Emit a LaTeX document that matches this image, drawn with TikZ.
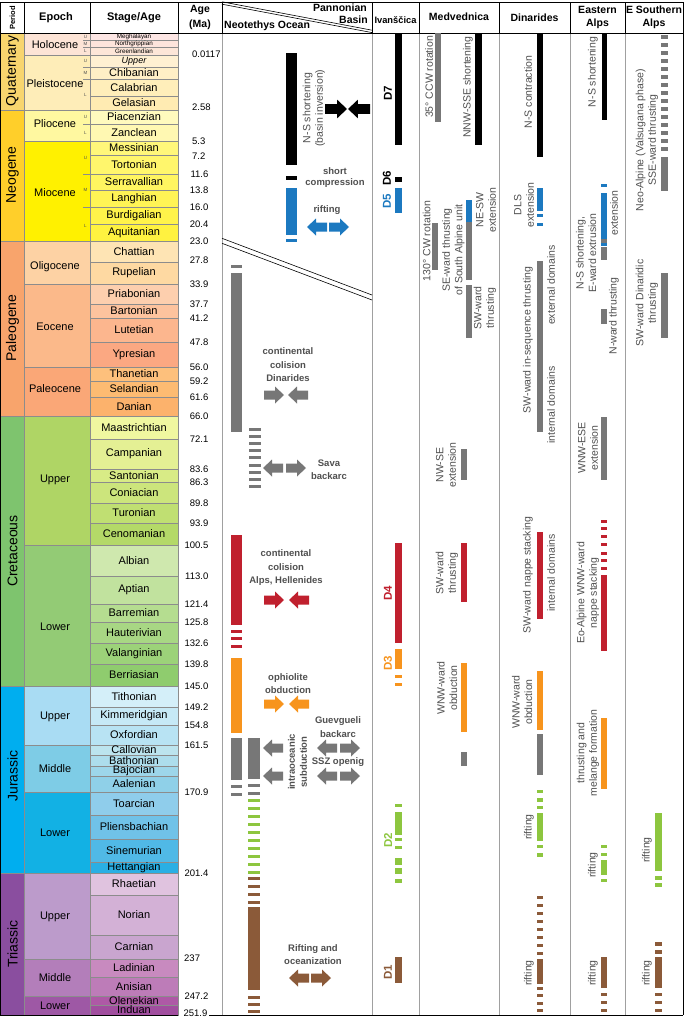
\documentclass[tikz,border=0pt]{standalone}
\usepackage{fontspec}
\setmainfont{Liberation Sans}
\definecolor{tgray}{HTML}{505050}
\definecolor{bgray}{HTML}{777777}
\definecolor{bblue}{HTML}{1C79C0}
\definecolor{bred}{HTML}{C0202E}
\definecolor{borange}{HTML}{F7941D}
\definecolor{bgreen}{HTML}{8DC63F}
\definecolor{bbrown}{HTML}{8B5A39}
\definecolor{lgray}{HTML}{8C8C8C}
\definecolor{cgray}{HTML}{A0A0A0}
\tikzset{
  rarr/.pic={\fill[#1] (-10,-4.5) -- (1,-4.5) -- (1,-8.5) -- (10,0) -- (1,8.5) -- (1,4.5) -- (-10,4.5) -- cycle;},
  larr/.pic={\fill[#1] (10,-4.5) -- (-1,-4.5) -- (-1,-8.5) -- (-10,0) -- (-1,8.5) -- (-1,4.5) -- (10,4.5) -- cycle;},
  hdr/.style={font=\bfseries\fontsize{10.5}{12}\selectfont, align=center, inner sep=0pt},
  lab/.style={font=\fontsize{10.5}{12.5}\selectfont, text=tgray, align=center, rotate=90, inner sep=0pt},
  nlab/.style={font=\bfseries\fontsize{9.5}{13.5}\selectfont, text=tgray, align=center, inner sep=0pt},
  dlab/.style={font=\bfseries\fontsize{11.5}{12}\selectfont, rotate=90, inner sep=0pt},
  agel/.style={font=\fontsize{9.5}{11}\selectfont, inner sep=0pt},
  subl/.style={font=\fontsize{4.5}{5}\selectfont, text=tgray, inner sep=0pt},
  cell/.style={draw=lgray, line width=0.5pt},
  sep/.style={draw=cgray, line width=0.8pt},
  frame/.style={draw=black, line width=0.8pt},
}
\begin{document}
\begin{tikzpicture}[x=1pt,y=-1pt]
\useasboundingbox (0,0) rectangle (685,1020);
\fill[white] (0,0) rectangle (685,1020);

% ---------- periods ----------
\foreach \a/\b/\n/\c/\yy in {33/110/Quaternary/F8D56E/71, 110/241/Neogene/FFCF2A/175, 241/416/Paleogene/F8A46C/328, 416/686/Cretaceous/7EC46E/551, 686/873/Jurassic/00AEEF/776, 873/1015/Triassic/8A4E9F/944}{
  \definecolor{tmpc}{HTML}{\c}
  \filldraw[fill=tmpc, cell] (0,\a) rectangle (24,\b);
  \node[font=\fontsize{14}{14}\selectfont, rotate=90, inner sep=0pt] (pe\a) at (12.5,\yy) {\n};
}
% ---------- epochs ----------
\foreach \a/\b/\n/\c/\yy in {33/55/Holocene/FDE4D6/45, 55/110/Pleistocene/FEEDB8/84, 110/141/Pliocene/FFF8A0/124, 141/241/Miocene/FFF100/193, 241/284/Oligocene/FDD2A4/267, 284/367/Eocene/FBB98A/327, 367/416/Paleocene/FAA777/389, 416/545/Upper/AFD565/480, 545/686/Lower/93CB75/627, 686/745/Upper/A9DCF3/717, 745/792/Middle/7ECCE6/769, 792/873/Lower/12B1E4/833, 873/959/Upper/BC9BCB/917, 959/996/Middle/B37EBA/978, 996/1015/Lower/9E58A5/1006}{
  \definecolor{tmpc}{HTML}{\c}
  \filldraw[fill=tmpc, cell] (24,\a) rectangle (90,\b);
  \node[font=\fontsize{11}{11}\selectfont, inner sep=0pt] (ep\a) at (55,\yy) {\n};
}
% ---------- stages ----------
\foreach \a/\b/\n/\c/\f in {33/40/Meghalayan/FDE6E4/6.3, 40/47/Northgrippian/FDE4DC/6.3, 47/55/Greenlandian/FDE6D8/6.3, 55/67/\itshape Upper/FFF0D2/9, 67/79/Chibanian/FFEFC6/11, 79/96/Calabrian/FFEEBA/11, 96/110/Gelasian/FFEBB2/11,
 110/124/Piacenzian/FFFABE/11, 124/141/Zanclean/FFF8B2/11, 141/155/Messinian/FFF77A/11, 155/174/Tortonian/FFF66C/11, 174/190/Serravallian/FFF560/11, 190/207/Langhian/FFF455/11, 207/224/Burdigalian/FFF34A/11, 224/241/Aquitanian/FFF240/11,
 241/262/Chattian/FEE4B4/11, 262/284/Rupelian/FED9A2/11, 284/304/Priabonian/FDCFAE/11, 304/318/Bartonian/FDC39E/11, 318/342/Lutetian/FCB68E/11, 342/367/Ypresian/FBA882/11, 367/381/Thanetian/FDC07C/11, 381/397/Selandian/FDBB72/11, 397/416/Danian/FCB26C/11,
 416/439/Maastrichtian/F0F7A0/11, 439/469/Campanian/E4F094/11, 469/482/Santonian/D8EB86/11, 482/503/Coniacian/CCE57C/11, 503/523/Turonian/C0DF72/11, 523/545/Cenomanian/B4D968/11,
 545/576/Albian/CFE8AE/11, 576/604/Aptian/C1E29E/11, 604/622/Barremian/B5DD90/11, 622/643/Hauterivian/A8D784/11, 643/664/Valanginian/9CD279/11, 664/686/Berriasian/8FCC6E/11,
 686/707/Tithonian/D4EFF9/11, 707/725/Kimmeridgian/C6E9F6/11, 725/745/Oxfordian/B8E3F3/11,
 745/755/Callovian/BCE4EE/11, 755/766/Bathonian/ADDDEC/11, 766/776/Bajocian/9DD6EA/11, 776/792/Aalenian/8FD0E8/11,
 792/815/Toarcian/8FCDEB/11, 815/839/Pliensbachian/70C2E8/11, 839/862/Sinemurian/50B9E6/11, 862/873/Hettangian/2AAFE4/11,
 873/895/Rhaetian/E0C3DF/11, 895/935/Norian/D3B1D6/11, 935/959/Carnian/C9A5CF/11, 959/977/Ladinian/C88ABF/11, 977/996/Anisian/BD7CB8/11, 996/1005/Olenekian/AE59A6/11, 1005/1015/Induan/A14E9F/11}{
  \definecolor{tmpc}{HTML}{\c}
  \filldraw[fill=tmpc, cell] (90,\a) rectangle (178,\b);
  \node[font=\fontsize{\f}{\f}\selectfont, inner sep=0pt] (st\a) at (134,{(\a+\b)/2}) {\n};
}
% sub-epoch ticks and letters
\foreach \y in {40,47,67,79,124,174,207} \draw[cell] (83,\y) -- (90,\y);
\foreach \y/\t in {36.5/U,43.5/M,51/L,61/U,73/M,95/L,117/U,133/L,158/U,190/M,226/L}
  \node[subl] (sl\y) at (85.5,\y) {\t};

% ---------- age labels ----------
\foreach \y/\t in {54/0.0117,107/2.58,141/5.3,156/7.2}
  \node[agel, anchor=west] (ag\y) at (192,\y) {\t};
\foreach \y/\t in {174/11.6,190/13.8,207/16.0,224/20.4,241/23.0,260/27.8,284/33.9,304/37.7,318/41.2,342/47.8,367/56.0,381/59.2,397/61.6,416/66.0,439/72.1,469/83.6,482/86.3,503/89.8,523/93.9,545/100.5,576/113.0,604/121.4,622/125.8,643/132.6,664/139.8,686/145.0,707/149.2,725/154.8,745/161.5,792/170.9,873/201.4,996/247.2}
  \node[agel, anchor=east] (ag\y) at (208.5,\y) {\t};
\node[agel, anchor=east] (ag1015) at (207.5,1013.5) {251.9};
\node[agel, anchor=west] (ag959) at (184,958) {237};

% ---------- column separators ----------
\foreach \x in {222,372,419,499,570,625} \draw[sep] (\x,33) -- (\x,1015);
\draw[frame] (0.4,2) -- (683,2);
\draw[frame] (0,33) -- (683,33);
\draw[frame] (683,2) -- (683,1015);
\draw[frame] (0.4,2) -- (0.4,1015);
\foreach \x in {24,90,178,222,372,419,499,570,625} \draw[frame] (\x,2) -- (\x,33);
\draw[frame] (0,1015) -- (178,1015);
\draw[frame] (209,1015) -- (683,1015);

% ---------- header texts ----------
\node[hdr, rotate=90, font=\bfseries\fontsize{7.5}{8}\selectfont] (hP) at (12.5,18) {Period};
\node[hdr, font=\bfseries\fontsize{11}{12}\selectfont] (hE) at (56,18) {Epoch};
\node[hdr, font=\bfseries\fontsize{11}{12}\selectfont] (hS) at (134,18) {Stage/Age};
\node[hdr, font=\bfseries\fontsize{10.5}{14.5}\selectfont] (hA) at (200,17.5) {Age\\(Ma)};
\draw[line width=0.6pt] (222,1.8) -- (372,30.2);
\draw[line width=0.6pt] (222,4.2) -- (372,32.6);
\node[hdr, anchor=east] (hPa) at (367,8) {Pannonian};
\node[hdr, anchor=east] (hBa) at (368,20) {Basin};
\node[hdr, anchor=west] (hNe) at (224,26) {Neotethys Ocean};
\node[hdr, font=\bfseries\fontsize{9.3}{12}\selectfont] (hIv) at (395.5,20) {Ivanščica};
\node[hdr] (hMe) at (459,17) {Medvednica};
\node[hdr] (hDi) at (534.5,17.5) {Dinarides};
\node[hdr, font=\bfseries\fontsize{10.5}{13.5}\selectfont] (hEA) at (597.5,17.5) {Eastern\\Alps};
\node[hdr, font=\bfseries\fontsize{10.5}{13.5}\selectfont] (hES) at (654,17.5) {E Southern\\Alps};

% ---------- Pannonian / Neotethys column ----------
\draw[line width=0.6pt] (222,238.3) -- (372,295);
\draw[line width=0.6pt] (222,243.3) -- (372,300);
% Pannonian basin
\fill[black] (286,53) rectangle (297,165);
\fill[black] (286,176) rectangle (297,180);
\fill[bblue] (286,188) rectangle (297,235);
\fill[bblue] (286,239) rectangle (297,242);
\node[lab] (nsS) at (314,108) {N-S shortening\\(basin inversion)};
\pic[scale=1.1] at (336,109) {rarr=black};
\pic[scale=1.1] at (359,109) {larr=black};
\node[nlab, font=\bfseries\fontsize{9.5}{11}\selectfont] (shc) at (335,178) {short\\compression};
\node[nlab] (rif) at (327,210) {rifting};
\pic at (317,227) {larr=bblue};
\pic at (339,227) {rarr=bblue};
% Neotethys
\fill[bgray] (231,265) rectangle (242,268);
\fill[bgray] (231,273) rectangle (242,432);
\foreach \i in {0,...,8} \fill[bgray] (249,{428+7.1*\i}) rectangle ++(12,3);
\node[nlab] (ccD) at (288,365) {continental\\colision\\Dinarides};
\pic at (274,395) {rarr=bgray};
\pic at (298,395) {larr=bgray};
\pic at (273,468) {larr=bgray};
\pic at (296,468) {rarr=bgray};
\node[nlab] (sav) at (329,469.5) {Sava\\backarc};
\fill[bred] (231,535) rectangle (242,625);
\foreach \y in {630,637,645} \fill[bred] (231,\y) rectangle ++(11,3);
\node[nlab] (ccA) at (286,568) {continental\\colision\\Alps, Hellenides};
\pic at (274,600) {rarr=bred};
\pic at (299,600) {larr=bred};
\fill[borange] (231,658) rectangle (242,733);
\node[nlab] (oph) at (288,683.5) {ophiolite\\obduction};
\pic at (274,704) {rarr=borange};
\pic at (299,704) {larr=borange};
\fill[bgray] (231,738) rectangle (242,780);
\foreach \y in {785,793} \fill[bgray] (231,\y) rectangle ++(11,3);
\fill[bgray] (248,738) rectangle (260,779);
\foreach \y in {784,792} \fill[bgray] (248,\y) rectangle ++(12,3);
\foreach \i in {0,...,9} \fill[bgreen] (248,{799+8*\i}) rectangle ++(12,3);
\foreach \y in {877,885,893,901} \fill[bbrown] (248,\y) rectangle ++(12,3);
\fill[bbrown] (248,907) rectangle (260,990);
\foreach \y in {996,1003,1010} \fill[bbrown] (248,\y) rectangle ++(12,3);
\node[nlab] (gue) at (338,727) {Guevgueli\\backarc};
\pic at (327,748) {larr=bgray};
\pic at (350,748) {rarr=bgray};
\node[nlab] (ssz) at (338,762) {SSZ openig};
\pic at (327,776) {larr=bgray};
\pic at (350,776) {rarr=bgray};
\pic at (273,748) {larr=bgray};
\pic at (273,776) {larr=bgray};
\node[nlab, rotate=90, font=\bfseries\fontsize{9.5}{12}\selectfont] (ioc) at (297.5,762) {intraoceanic\\subduction};
\node[nlab] (roc) at (313,954.5) {Rifting and\\oceanization};
\pic at (299,978) {larr=bbrown};
\pic at (321,978) {rarr=bbrown};

% ---------- Ivanscica ----------
\fill[black] (395,33) rectangle (402,145);
\node[dlab] (d7) at (388,93) {D7};
\fill[black] (395,177) rectangle (402,182);
\node[dlab] (d6) at (387,178) {D6};
\fill[bblue] (395,188) rectangle (402,213);
\node[dlab, text=bblue] (d5) at (387,201) {D5};
\fill[bred] (395,543) rectangle (402,643);
\node[dlab, text=bred] (d4) at (388,593) {D4};
\fill[borange] (395,649) rectangle (402,669);
\foreach \y in {675,683} \fill[borange] (395,\y) rectangle ++(7,3);
\node[dlab, text=borange] (d3) at (388,663) {D3};
\foreach \a/\b in {804/807,812/835,838/841,846/849,858/865,868/874,879/883} \fill[bgreen] (395,\a) rectangle (402,\b);
\node[dlab, text=bgreen] (d2) at (388,840) {D2};
\fill[bbrown] (395,957) rectangle (402,983);
\node[dlab, text=bbrown] (d1) at (388,972) {D1};

% ---------- Medvednica ----------
\fill[bgray] (435,33) rectangle (441,122);
\node[lab] (m1) at (429,77) {35° CCW rotation};
\fill[black] (475,33) rectangle (482,145);
\node[lab] (m2) at (468,87) {NNW-SSE shortening};
\fill[bgray] (432,223) rectangle (438,270);
\node[lab] (m3) at (426.5,241) {130° CW rotation};
\fill[bblue] (466,200) rectangle (472,222);
\fill[bgray] (466,222) rectangle (472,280);
\node[lab] (m4) at (453.5,250) {SE-ward thrusting\\of South Alpine unit};
\node[lab] (m5) at (486,210) {NE-SW\\extension};
\fill[bgray] (466,285) rectangle (472,338);
\node[lab] (m6) at (485,308) {SW-ward\\thrusting};
\fill[bgray] (461,449) rectangle (467,480);
\node[lab] (m7) at (446,465) {NW-SE\\extension};
\fill[bred] (461,543) rectangle (467,602);
\node[lab] (m8) at (447,573) {SW-ward\\thrusting};
\fill[borange] (461,663) rectangle (467,732);
\node[lab] (m9) at (447,688) {WNW-ward\\obduction};
\fill[bgray] (461,752) rectangle (467,766);

% ---------- Dinarides ----------
\fill[black] (537,33) rectangle (543,157);
\node[lab] (n1) at (528,92) {N-S contraction};
\fill[bblue] (537,188) rectangle (543,211);
\foreach \y in {214,223} {\fill[bblue] (537,\y) rectangle ++(2.6,3); \fill[bblue] (540.4,\y) rectangle ++(2.6,3);}
\node[lab] (n2) at (524,205) {DLS\\extension};
\fill[bgray] (537,261) rectangle (543,432);
\node[lab] (n3) at (528,340) {SW-ward in-sequence thrusting};
\node[lab] (n4) at (551,285) {external domains};
\node[lab] (n5) at (551,405) {internal domains};
\fill[bred] (537,532) rectangle (543,619);
\node[lab] (n6) at (528,575) {SW-ward nappe stacking};
\node[lab] (n7) at (551,573) {internal domains};
\fill[borange] (537,671) rectangle (543,730);
\node[lab] (n8) at (522,702) {WNW-ward\\obduction};
\fill[bgray] (537,734) rectangle (543,775);
\foreach \a/\b in {790/793,798/802,806/809,813/841,845/848,853/857} \fill[bgreen] (537,\a) rectangle (543,\b);
\node[lab] (n9) at (529,827) {rifting};
\foreach \i in {0,...,7} \fill[bbrown] (537,{896+8*\i}) rectangle ++(6,3);
\fill[bbrown] (537,959) rectangle (543,984);
\foreach \y in {987,994,1002,1009} \fill[bbrown] (537,\y) rectangle ++(6,3);
\node[lab] (n10) at (529,973) {rifting};

% ---------- Eastern Alps ----------
\fill[black] (602,33) rectangle (607,120);
\node[lab] (e1) at (593,72) {N-S shortening};
\fill[bblue] (601,184) rectangle (607,187);
\fill[bblue] (601,193) rectangle (607,239);
\fill[bgray] (601,239) rectangle (607,243);
\fill[bblue] (601,243) rectangle (607,246);
\fill[bgray] (601,247) rectangle (607,260);
\node[lab] (e2) at (614,213) {extension};
\node[lab] (e3) at (586,253) {N-S shortening,\\E-ward extrusion};
\fill[bgray] (601,309) rectangle (607,324);
\node[lab] (e4) at (614,316) {N-ward thrusting};
\fill[bgray] (601,417) rectangle (607,480);
\node[lab] (e5) at (588,448) {WNW-ESE\\extension};
\foreach \y in {520,527,535,543,552,559,567} \fill[bred] (601,\y) rectangle ++(6,3);
\fill[bred] (601,575) rectangle (607,651);
\node[lab] (e6) at (588,593) {Eo-Alpine WNW-ward\\nappe stacking};
\fill[borange] (601,718) rectangle (607,789);
\node[lab] (e7) at (588,753) {thrusting and\\melange formation};
\foreach \a/\b in {845/848,853/856,860/875,879/882} \fill[bgreen] (601,\a) rectangle (607,\b);
\node[lab] (e8) at (593,865) {rifting};
\fill[bbrown] (601,957) rectangle (607,988);
\foreach \y in {993,1001,1009} \fill[bbrown] (601,\y) rectangle ++(6,3);
\node[lab] (e9) at (593,973) {rifting};

% ---------- E Southern Alps ----------
\foreach \i in {0,...,14} \fill[bgray] (661,{35+8*\i}) rectangle ++(7,3.5);
\fill[bgray] (661,157) rectangle (668,191);
\node[lab] (s1) at (647,140) {Neo-Alpine (Valsugana phase)\\SSE-ward thrusting};
\fill[bgray] (661,273) rectangle (668,338);
\node[lab] (s2) at (647,303) {SW-ward Dinaridic\\thrusting};
\fill[bgreen] (655,813) rectangle (662,871);
\foreach \y in {876,883} \fill[bgreen] (655,\y) rectangle ++(7,3.5);
\node[lab] (s3) at (647,850) {rifting};
\foreach \y in {942,950} \fill[bbrown] (655,\y) rectangle ++(7,3.5);
\fill[bbrown] (655,957) rectangle (662,988);
\foreach \y in {993,1001,1009} \fill[bbrown] (655,\y) rectangle ++(7,3);
\node[lab] (s4) at (647,973) {rifting};
\end{tikzpicture}
\end{document}
